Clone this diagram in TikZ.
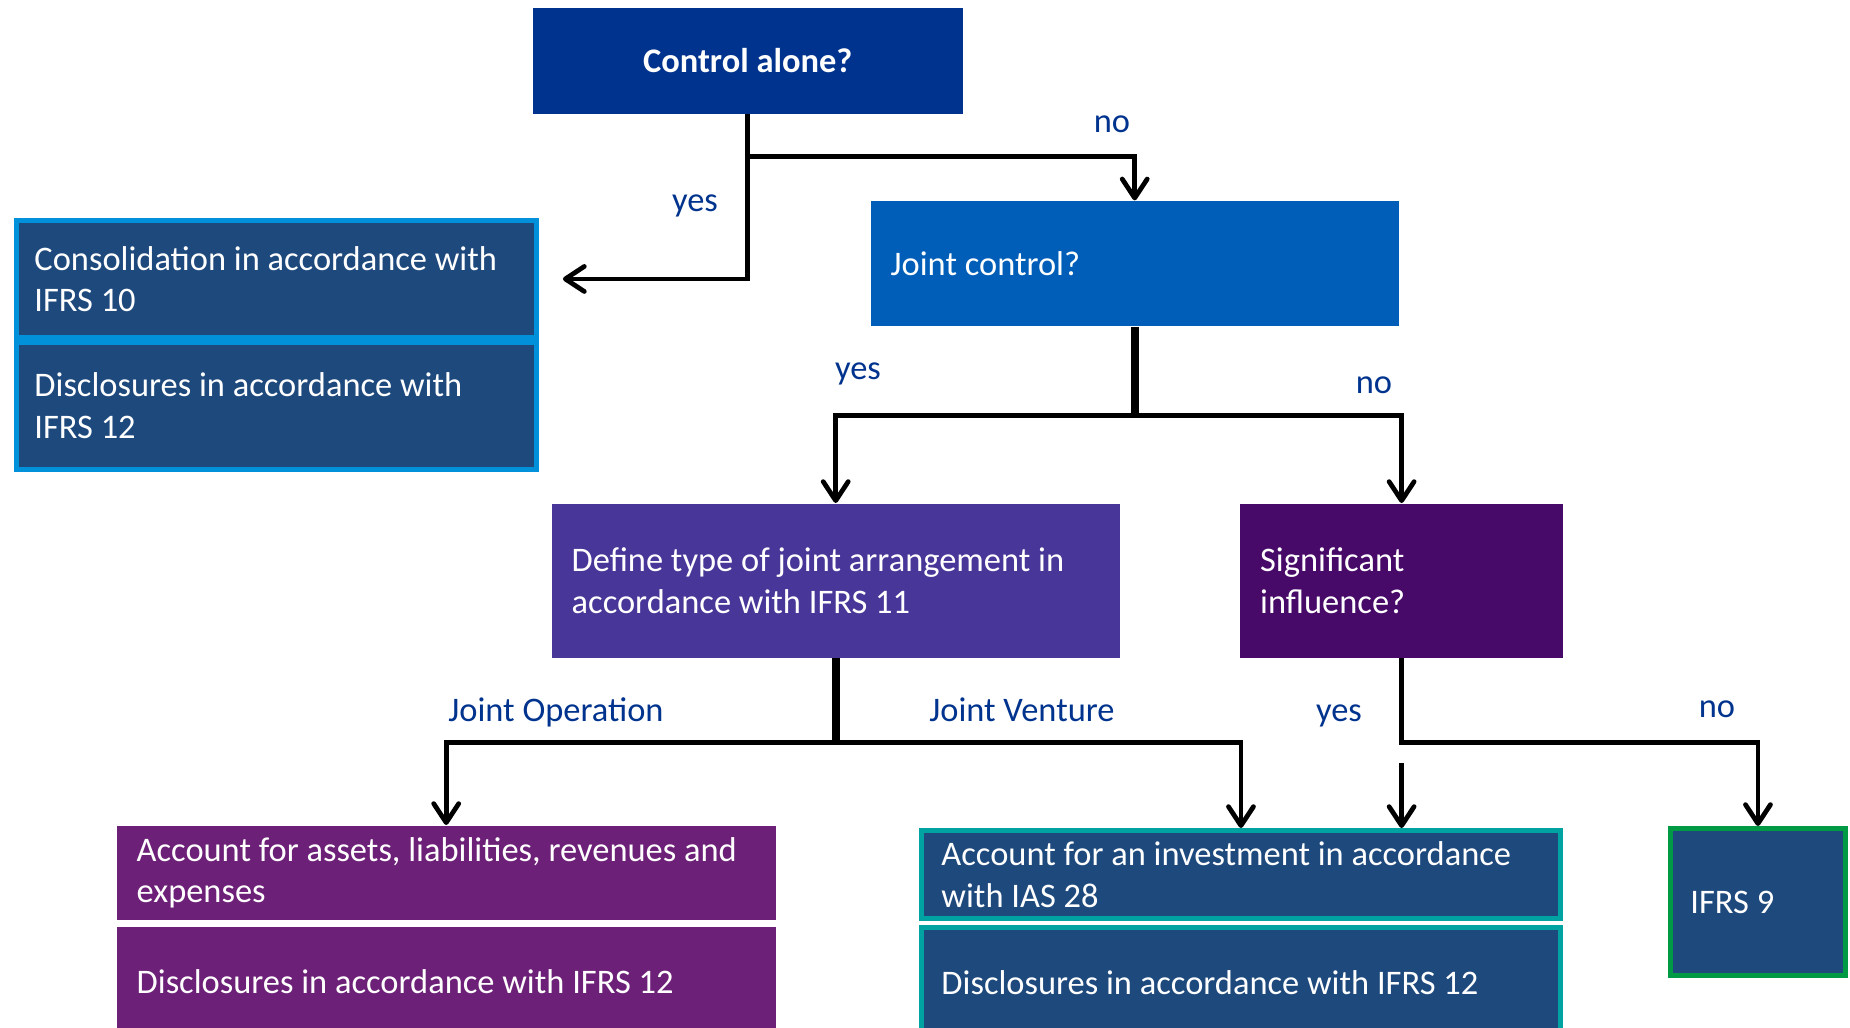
\documentclass[tikz,border=0pt]{standalone}
\usepackage{fontspec}
\setmainfont{Carlito}
\usepackage{tikz}
\usetikzlibrary{positioning, arrows.meta, calc}
\definecolor{kblue}{HTML}{00338D}
\definecolor{kmedblue}{HTML}{005EB8}
\definecolor{klightblue}{HTML}{0091DA}
\definecolor{knavy}{HTML}{1E497D}
\definecolor{kviolet}{HTML}{483698}
\definecolor{kpurple}{HTML}{470A68}
\definecolor{klightpurple}{HTML}{6D2077}
\definecolor{kteal}{HTML}{00A3A1}
\definecolor{kgreen}{HTML}{009A44}
\newcommand{\boxfont}{\fontsize{9.8}{11.8}\selectfont}
\tikzset{box node/.style 2 args={rectangle, fill=#1, text=white, align=left, anchor=north west, inner xsep=0.2cm, inner ysep=0pt, text width=#2, font=\boxfont, execute at begin node={\spaceskip=\fontdimen2\font\xspaceskip=\fontdimen2\font\relax}},
	framed node/.style={draw=#1, line width=1.4pt},
	branch text/.style={text=kblue, font=\boxfont, inner sep=0pt},
	arrow line/.style={line width=1.35pt, -{Straight Barb[length=1.9mm, width=2.5mm, round]}},
	trunk line/.style={line width=2.2pt},}

\begin{document}
\begin{tikzpicture}
			\useasboundingbox (0,0) rectangle (18.5,-10.28);
			\clip (0,0) rectangle (18.5,-10.28);
			% Questions
			\node[box node={kblue}{3.9cm}, minimum height=1.06cm, align=center, font=\boxfont\bfseries] (ctrl) at (5.32,-0.07) {Control alone?};
			\node[box node={kmedblue}{4.88cm}, minimum height=1.25cm] [below right=0.86cm and 3.38cm of ctrl.south west] (joint) {Joint control?};
			\node[box node={kviolet}{5.28cm}, minimum height=1.54cm] (define) at (5.51,-5.03) {Define type of joint arrangement in\\ accordance with IFRS 11};
			\node[box node={kpurple}{2.83cm}, minimum height=1.54cm] [right=1.19cm of define] (signif) {Significant\\ influence?};
			% Outcomes
			\node[box node={knavy}{4.84cm}, framed node=klightblue, minimum height=1.17cm, inner xsep=0.18cm] (consol) at (0.14,-2.18) {Consolidation in accordance with\\ IFRS 10};
			\node[box node={knavy}{4.84cm}, framed node=klightblue, minimum height=1.27cm, inner xsep=0.18cm] [below=0cm of consol] (discl1) {Disclosures in accordance with\\ IFRS 12};
			\node[box node={klightpurple}{6.19cm}, minimum height=0.94cm] (assets) at (1.16,-8.25) {Account for assets, liabilities, revenues and\\ expenses};
			\node[box node={klightpurple}{6.19cm}, minimum height=1.1cm] [below=0.06cm of assets] (discl2) {Disclosures in accordance with IFRS 12};
			\node[box node={knavy}{5.99cm}, framed node=kteal, minimum height=0.88cm] (invest) at (9.19,-8.28) {Account for an investment in accordance\\ with IAS 28};
			\node[box node={knavy}{5.99cm}, framed node=kteal, minimum height=1.1cm] [below=0.04cm of invest] (discl3) {Disclosures in accordance with IFRS 12};
			\node[box node={knavy}{1.35cm}, framed node=kgreen, minimum height=1.47cm] (ifrs9) at (16.68,-8.26) {IFRS 9};
			% Branch points
			\coordinate[below=0.42cm of ctrl.south] (split1);
			\coordinate[right=0.24cm of consol.east] (consolin);
			\coordinate[below=0.89cm of joint.south] (split2);
			\coordinate[below=0.84cm of define.south] (split3);
			\coordinate[below=0.84cm of signif.south] (split4);
			\coordinate[below=1.05cm of signif.south] (sigyes);
			% Paths
			\draw[arrow line] (ctrl.south) |- (consolin);
			\draw[arrow line] (split1) -| (joint.north);
			\draw[trunk line] (joint.south) -- (split2);
			\draw[arrow line] (split2) -| (define.north);
			\draw[arrow line] (split2) -| (signif.north);
			\draw[trunk line] (define.south) -- (split3);
			\draw[arrow line] (split3) -| (assets.north);
			\draw[arrow line] (split3) -| (invest.north);
			\draw[arrow line] (signif.south) -- (split4) -| (ifrs9.north);
			\draw[arrow line] (sigyes) -- (sigyes |- invest.north);
			% Labels
			\node[branch text] (no1) at (11.12,-1.24) {no};
			\node[branch text] (yes1) at (6.95,-2.06) {yes};
			\node[branch text] (yes2) at (8.58,-3.74) {yes};
			\node[branch text] (no2) at (13.74,-3.85) {no};
			\node[branch text] (jo) at (5.56,-7.12) {Joint Operation};
			\node[branch text] (jv) at (10.22,-7.10) {Joint Venture};
			\node[branch text] (yes3) at (13.39,-7.16) {yes};
			\node[branch text] (no3) at (17.17,-7.09) {no};
		\end{tikzpicture}
\end{document}
